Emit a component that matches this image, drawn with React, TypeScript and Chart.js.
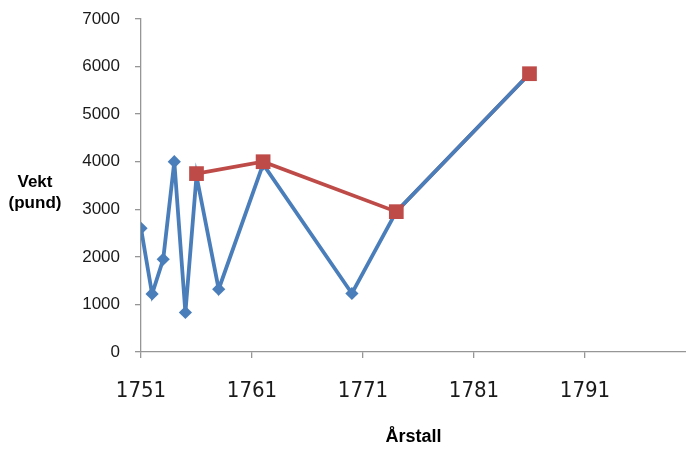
import React, { useEffect, useRef } from "react";
import { Chart, registerables } from "chart.js";

Chart.register(...registerables);

const blueYears = [1751, 1752, 1753, 1754, 1755, 1756, 1758, 1762, 1770, 1774, 1786];
const blueValues = [2600, 1220, 1950, 4000, 830, 3700, 1320, 3950, 1230, 2950, 5850];
const redYears = [1756, 1762, 1774, 1786];
const redValues = [3750, 4000, 2950, 5850];
const xTickValues = [1751, 1761, 1771, 1781, 1791];
const yAxisTitle = ["Vekt", "(pund)"];
const xAxisTitle = "Årstall";

const AXIS_COLOR = "#969696";
const BLUE = "#4A7EBB";
const RED = "#BE4B48";

const yTitlePlugin = {
  id: "yTitle",
  afterDraw(chart: any) {
    const ctx = chart.ctx;
    ctx.save();
    ctx.font = 'bold 17px "Liberation Sans", Arial, sans-serif';
    ctx.fillStyle = "#000";
    ctx.textAlign = "center";
    ctx.textBaseline = "alphabetic";
    ctx.fillText(yAxisTitle[0], 35, 187);
    ctx.fillText(yAxisTitle[1], 35, 208);
    ctx.restore();
  },
};

export default function App() {
  const ref = useRef<HTMLCanvasElement>(null);
  useEffect(() => {
    const canvas = ref.current!;
    const redData = redYears.map((x, i) => ({ x, y: redValues[i] }));
    const blueData = blueYears.map((x, i) => ({ x, y: blueValues[i] }));
    const chart = new Chart(canvas, {
      type: "line",
      data: {
        datasets: [
          {
            label: "red markers",
            data: redData,
            showLine: false,
            borderColor: RED,
            backgroundColor: RED,
            pointStyle: "rect",
            pointRadius: 10.4,
            pointBorderWidth: 0,
            pointBackgroundColor: RED,
          },
          {
            label: "blue",
            data: blueData,
            borderColor: BLUE,
            backgroundColor: BLUE,
            borderWidth: 3.8,
            pointStyle: "rectRot",
            pointRadius: 6.6,
            pointBorderWidth: 0,
            pointBackgroundColor: BLUE,
            tension: 0,
          },
          {
            label: "red line",
            data: redData,
            borderColor: RED,
            backgroundColor: RED,
            borderWidth: 3.6,
            pointRadius: 0,
            tension: 0,
          },
        ],
      },
      options: {
        animation: false,
        responsive: false,
        devicePixelRatio: 1,
        layout: { autoPadding: false, padding: { top: 19, right: 0, bottom: 0, left: 0 } },
        plugins: { legend: { display: false }, tooltip: { enabled: false } },
        scales: {
          x: {
            type: "linear",
            min: 1751,
            max: 1800.1,
            afterBuildTicks: (axis: any) => {
              axis.ticks = xTickValues.map((v) => ({ value: v }));
            },
            afterFit: (scale: any) => {
              scale.height = 101;
              scale.paddingRight = 0;
            },
            grid: {
              drawOnChartArea: false,
              drawTicks: true,
              tickLength: 6,
              color: AXIS_COLOR,
              lineWidth: 1.3,
            },
            border: { display: true, color: AXIS_COLOR, width: 1.3 },
            ticks: {
              autoSkip: false,
              maxRotation: 0,
              padding: 20,
              color: "#1a1a1a",
              font: { family: '"Liberation Sans Narrow", "DejaVu Sans Condensed", sans-serif', size: 22 },
              callback: (v: any) => String(v),
            },
            title: {
              display: true,
              text: xAxisTitle,
              color: "#000",
              font: { family: '"Liberation Sans", Arial, sans-serif', size: 18, weight: "bold" },
              padding: { top: 0, bottom: 5 },
            },
          },
          y: {
            min: 0,
            max: 7000,
            afterFit: (scale: any) => {
              scale.width = 141;
              scale.paddingTop = 0;
              scale.paddingBottom = 0;
            },
            grid: {
              drawOnChartArea: false,
              drawTicks: true,
              tickLength: 6,
              color: AXIS_COLOR,
              lineWidth: 1.3,
            },
            border: { display: true, color: AXIS_COLOR, width: 1.3 },
            ticks: {
              stepSize: 1000,
              padding: 15,
              color: "#1a1a1a",
              font: { family: '"Liberation Sans", Arial, sans-serif', size: 17 },
              callback: (v: any) => String(v),
            },
          },
        },
      },
      plugins: [yTitlePlugin],
    } as any);
    return () => chart.destroy();
  }, []);
  return (
    <div style={{ position: "fixed", left: 0, top: 0, width: 686, height: 453, background: "#fff" }}>
      <canvas ref={ref} width={686} height={453} />
    </div>
  );
}
